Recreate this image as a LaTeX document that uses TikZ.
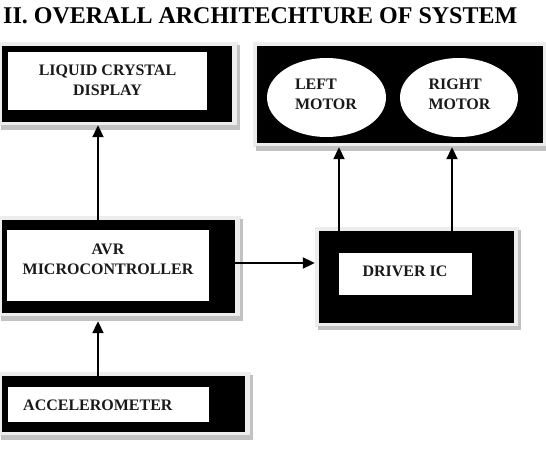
\documentclass[tikz,border=0pt]{standalone}
\usepackage{fontspec}
\setmainfont{Liberation Serif}
\usetikzlibrary{arrows.meta,shapes.geometric}
\begin{document}
\begin{tikzpicture}[x=1pt,y=-1pt,
  blk/.style={fill=black,draw=none,inner sep=0pt,rectangle},
  wht/.style={fill=white,draw=none,inner sep=0pt,rectangle},
  oval/.style={fill=white,draw=none,inner sep=0pt,ellipse},
  lbl/.style={font=\fontsize{16}{20}\selectfont\bfseries,inner sep=0pt,text=black!90},
  arr/.style={line width=2pt,-{Triangle[length=12pt,width=11pt]}},
  shlight/.style={fill=black!7},
  shdark/.style={fill=black!24}]
\useasboundingbox (0,0) rectangle (546,450);
\fill[white] (0,0) rectangle (546,450);
% title
\node[anchor=base west,inner sep=0pt,font=\fontsize{24}{28}\selectfont\bfseries] (title) at (3,23) {II. OVERALL ARCHITECHTURE OF SYSTEM};
% shadows (light frame with darker lower-right edge)
\fill[shlight] (-2,42) rectangle (238,126);
\fill[shdark] (1,125) rectangle (240,130);
\fill[shdark] (237,45) rectangle (240,130);
\fill[shlight] (253,42) rectangle (549,147);
\fill[shdark] (256,146) rectangle (549,151);
\fill[shlight] (-2,216) rectangle (241,317);
\fill[shdark] (1,316) rectangle (243,321);
\fill[shdark] (240,219) rectangle (243,321);
\fill[shlight] (315,227) rectangle (519,327);
\fill[shdark] (318,326) rectangle (521,330);
\fill[shdark] (518,230) rectangle (521,330);
\fill[shlight] (-2,372) rectangle (251,436);
\fill[shdark] (1,435) rectangle (253,440);
\fill[shdark] (250,375) rectangle (253,440);
% LCD
\node[blk,minimum width=230pt,minimum height=76pt] (lcd) at (117,84) {};
\node[wht,minimum width=199pt,minimum height=58pt] (lcdw) at (107.5,81) {};
\node[lbl,align=center] (lcdt) at (107.5,80) {LIQUID CRYSTAL\\DISPLAY};
% motors
\node[blk,minimum width=286pt,minimum height=97pt] (mot) at (400,94.5) {};
\node[oval,minimum width=119pt,minimum height=79pt] (lm) at (326.5,97.5) {};
\node[oval,minimum width=118pt,minimum height=79pt] (rm) at (459,97.5) {};
\node[lbl,align=left] (lmt) at (326,94) {LEFT\\MOTOR};
\node[lbl,align=left] (rmt) at (459.5,94) {RIGHT\\MOTOR};
% AVR
\node[blk,minimum width=233pt,minimum height=93pt] (avr) at (118.5,266.5) {};
\node[wht,minimum width=202pt,minimum height=71pt] (avrw) at (108,265.5) {};
\node[lbl,align=center] (avrt) at (108,259) {AVR\\MICROCONTROLLER};
% driver
\node[blk,minimum width=195pt,minimum height=92pt] (drv) at (416.5,277) {};
\node[wht,minimum width=133pt,minimum height=42pt] (drvw) at (405.5,274) {};
\node[lbl] (drvt) at (405,271) {DRIVER IC};
% accelerometer
\node[blk,minimum width=243pt,minimum height=56pt] (acc) at (123.5,404) {};
\node[wht,minimum width=201pt,minimum height=35pt] (accw) at (108.5,404.5) {};
\node[lbl,anchor=west] (acct) at (23,405) {ACCELEROMETER};
% connector columns
\coordinate (c1) at (98,0);
\coordinate (c2) at (339,0);
\coordinate (c3) at (452,0);
\coordinate (r1) at (0,263);
% connectors
\draw[arr] (c1 |- acc.north) -- ([yshift=-8pt]c1 |- avr.south);
\draw[arr] (c1 |- avr.north) -- ([yshift=-3pt]c1 |- lcd.south);
\draw[arr] (r1 -| avr.east) -- ([xshift=-4pt]r1 -| drv.west);
\draw[arr] (c2 |- drv.north) -- ([yshift=-4pt]c2 |- mot.south);
\draw[arr] (c3 |- drv.north) -- ([yshift=-4pt]c3 |- mot.south);
\end{tikzpicture}
\end{document}
